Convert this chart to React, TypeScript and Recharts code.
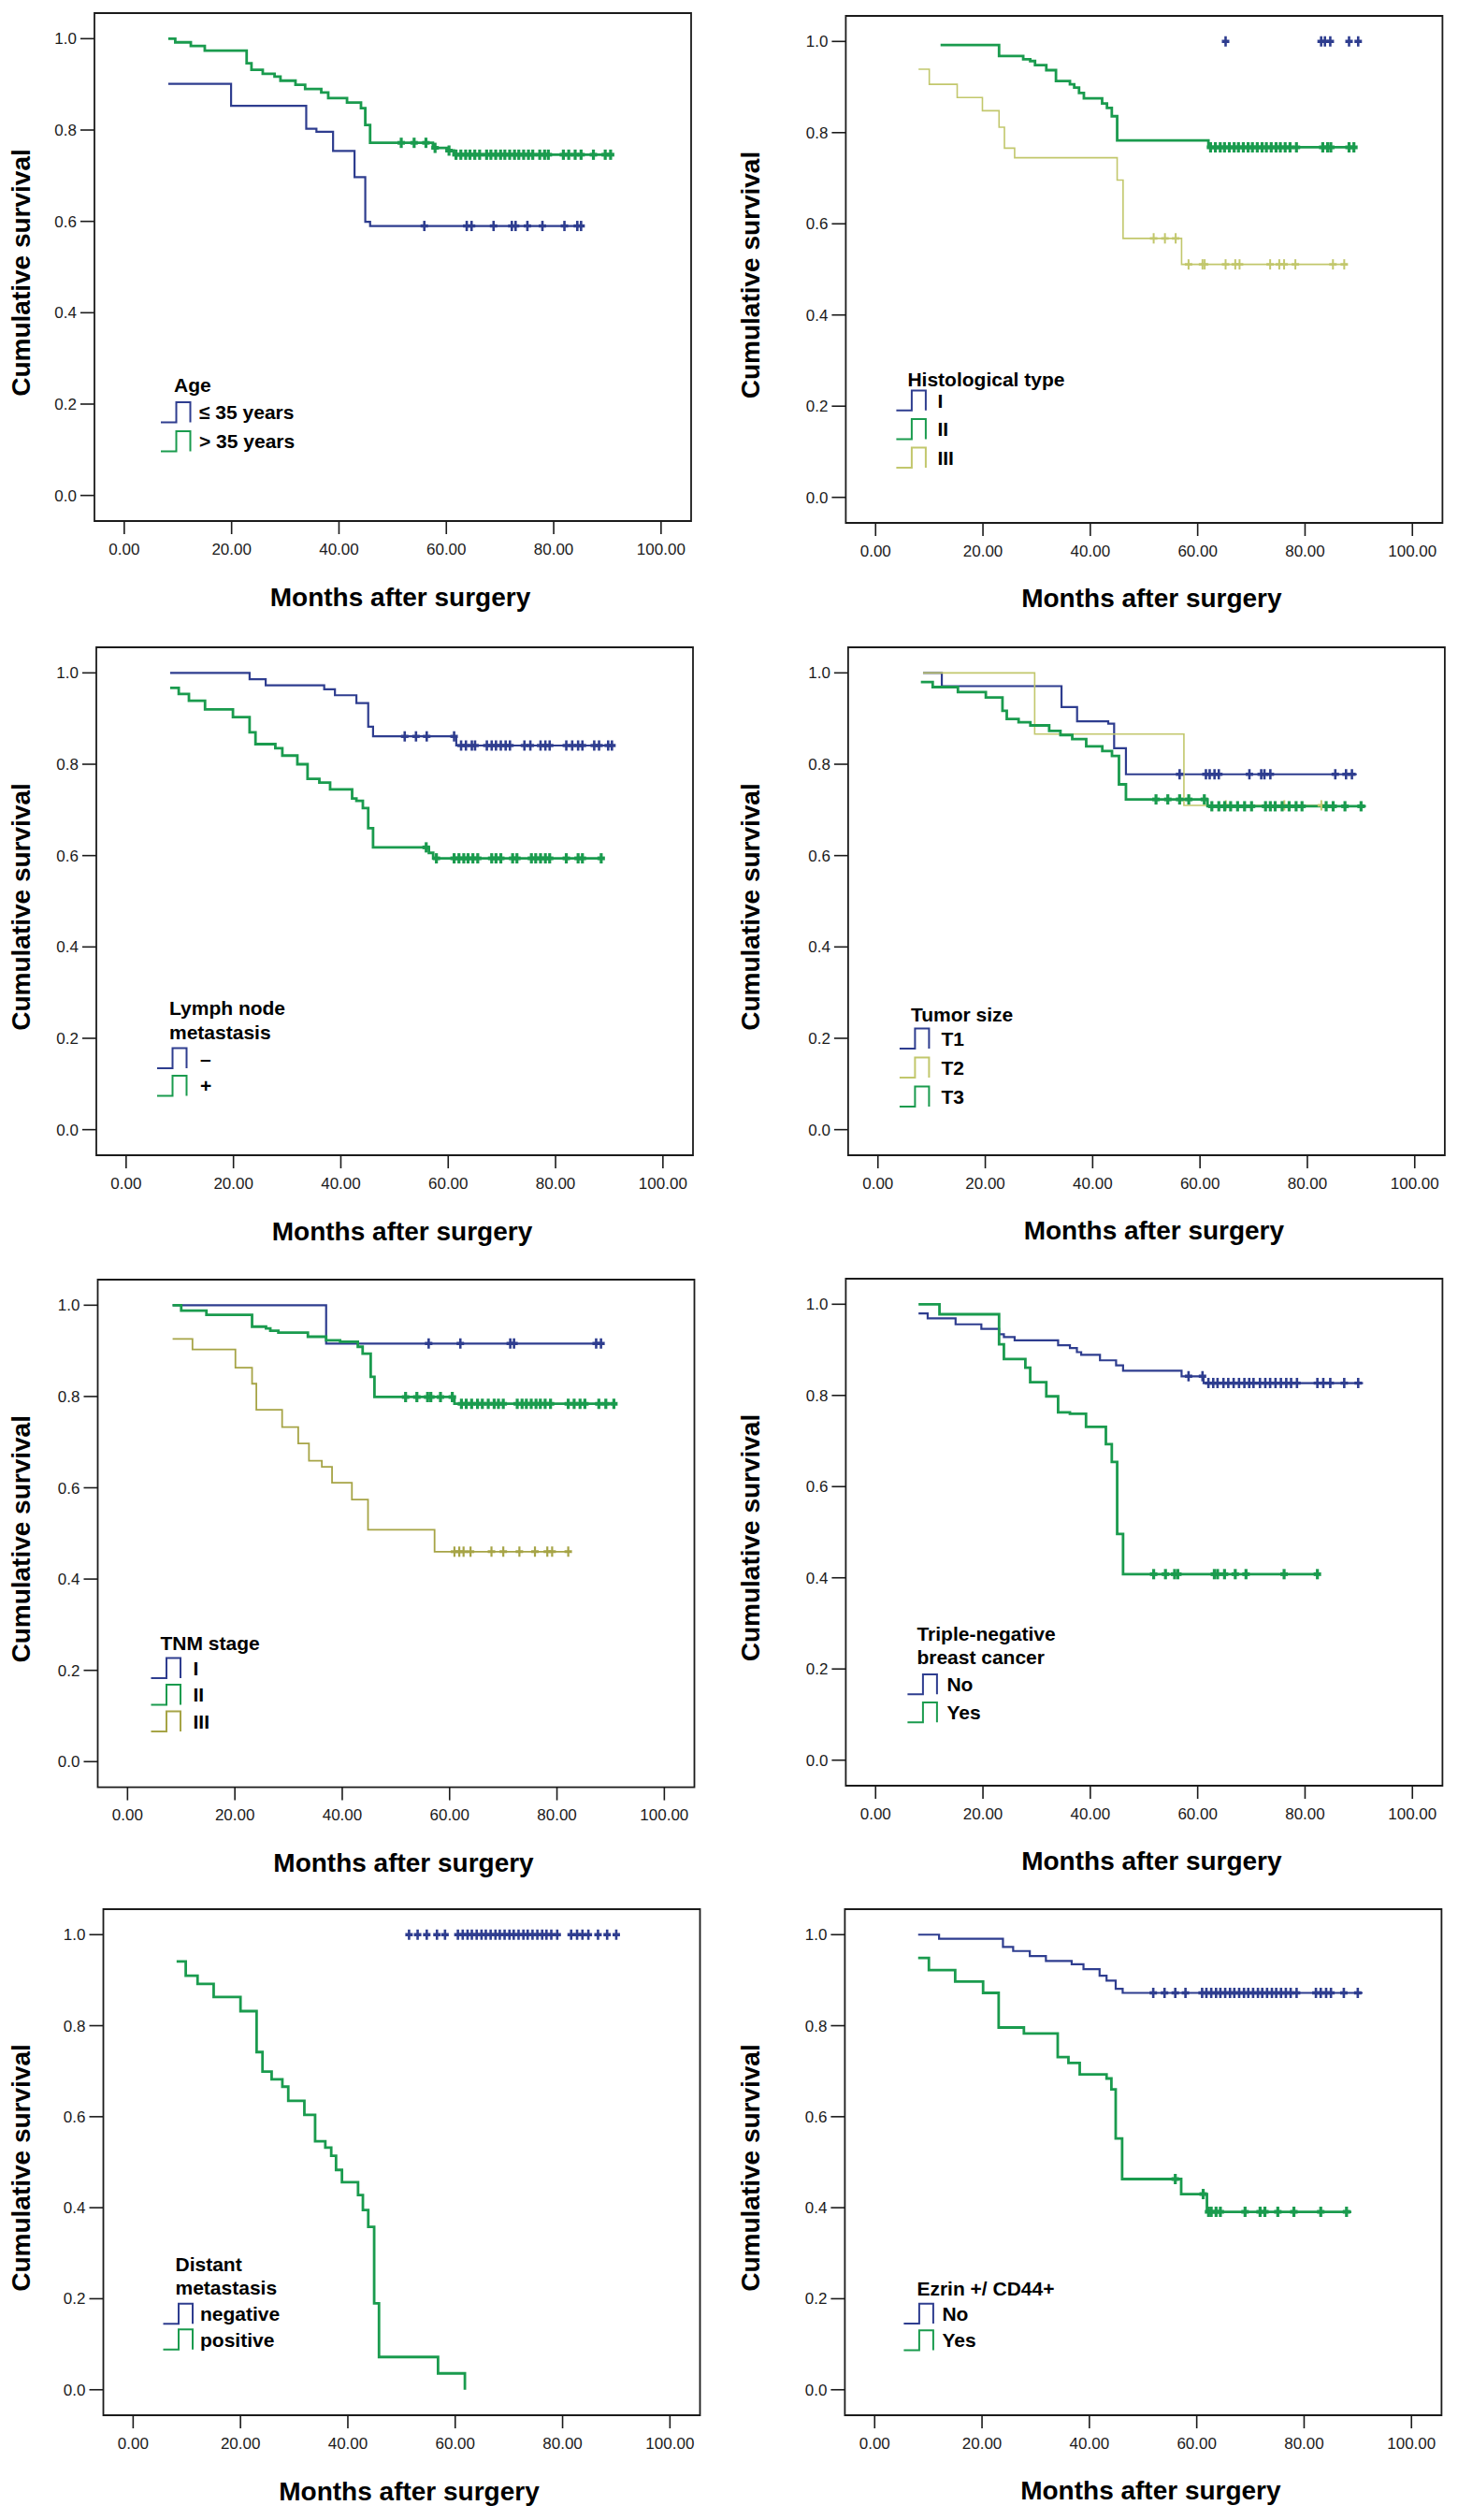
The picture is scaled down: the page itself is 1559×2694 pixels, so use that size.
import React from "react";
import { ComposedChart, Line, Scatter, XAxis, YAxis, ReferenceArea } from "recharts";

const FONT = "'Liberation Sans', Arial, Helvetica, sans-serif";
const INK = "#1b1b1b";
const BLUE = "#2e3d8f";
const GREEN = "#1a9b4e";
const PALE = "#c2c76c";
const OLIVE = "#a6a446";

const X_TICKS = [0, 20, 40, 60, 80, 100];
const Y_TICKS = [0, 0.2, 0.4, 0.6, 0.8, 1.0];
const X_DOMAIN: [number, number] = [-5.55, 105.6];
const Y_DOMAIN: [number, number] = [-0.056, 1.056];

// t = step times (first = start, last = end of follow-up), s = survival, c = censored times

// Age
const ageYoungT = [8.2, 19.9, 33.9, 35.8, 38.9, 42.9, 44.9, 45.8, 85.7];
const ageYoungS = [0.901, 0.853, 0.803, 0.796, 0.754, 0.697, 0.599, 0.59, 0.59];
const ageYoungC = [55.9, 63.8, 64.7, 68.8, 72.2, 72.9, 75.1, 77.9, 82.0, 84.4, 85.1];
const ageOldT = [8.2, 9.5, 12.4, 15.0, 22.8, 23.7, 25.8, 28.0, 29.1, 31.9, 33.7, 36.7, 38.0, 41.5, 44.1, 44.9, 45.8, 57.5, 60.1, 61.4, 90.9];
const ageOldS = [1.0, 0.992, 0.984, 0.974, 0.946, 0.932, 0.923, 0.917, 0.908, 0.899, 0.89, 0.882, 0.87, 0.86, 0.848, 0.811, 0.772, 0.761, 0.755, 0.746, 0.746];
const ageOldC = [51.6, 54.0, 56.2, 57.9, 60.5, 61.8, 62.7, 63.6, 64.4, 65.3, 66.2, 67.5, 68.3, 69.2, 70.1, 70.9, 71.8, 72.7, 73.5, 74.4, 75.3, 76.1, 77.4, 78.3, 79.0, 81.8, 82.8, 84.0, 85.1, 87.4, 89.6, 90.6];

// Histological type
const histIT = [65.2];
const histIS = [1.0];
const histIC = [65.2, 83.0, 83.7, 84.7, 88.2, 89.9];
const histIIT = [12.1, 23.0, 27.5, 28.8, 29.7, 31.8, 33.6, 36.2, 37.0, 37.9, 38.8, 42.2, 43.1, 44.0, 45.0, 62.0, 89.1];
const histIIS = [0.992, 0.968, 0.961, 0.957, 0.948, 0.937, 0.913, 0.906, 0.899, 0.887, 0.875, 0.864, 0.854, 0.836, 0.783, 0.768, 0.768];
const histIIC = [62.4, 63.3, 64.2, 65.0, 65.9, 66.8, 67.6, 68.5, 69.4, 70.2, 71.1, 72.0, 72.8, 73.7, 74.6, 75.4, 76.3, 77.2, 78.4, 83.3, 84.2, 84.8, 88.2, 89.1];
const histIIIT = [8.0, 10.0, 15.2, 19.9, 23.0, 24.0, 25.9, 45.0, 46.1, 57.0, 87.8];
const histIIIS = [0.939, 0.906, 0.877, 0.848, 0.812, 0.766, 0.745, 0.696, 0.568, 0.511, 0.511];
const histIIIC = [51.8, 53.9, 55.9, 58.3, 60.9, 61.3, 65.2, 67.0, 67.8, 73.5, 75.2, 76.1, 78.2, 85.2, 87.3];

// Lymph node metastasis
const lnNegT = [8.2, 23.0, 26.0, 36.9, 38.9, 42.9, 45.1, 46.0, 61.5, 90.6];
const lnNegS = [1.0, 0.986, 0.973, 0.964, 0.951, 0.934, 0.882, 0.861, 0.841, 0.841];
const lnNegC = [51.9, 54.0, 56.0, 61.1, 62.4, 63.3, 64.4, 65.0, 67.2, 68.1, 68.9, 69.8, 70.7, 71.5, 74.2, 75.3, 77.2, 78.1, 78.9, 82.0, 83.1, 84.2, 85.0, 87.2, 88.1, 89.8, 90.5];
const lnPosT = [8.2, 9.8, 11.7, 14.7, 19.9, 23.0, 24.1, 27.8, 29.1, 31.9, 33.8, 36.0, 38.0, 42.1, 42.9, 44.1, 45.1, 46.0, 56.4, 57.2, 88.5];
const lnPosS = [0.967, 0.954, 0.939, 0.92, 0.903, 0.87, 0.844, 0.835, 0.819, 0.8, 0.768, 0.76, 0.745, 0.725, 0.72, 0.704, 0.66, 0.618, 0.606, 0.594, 0.594];
const lnPosC = [55.9, 57.8, 61.1, 62.0, 62.9, 63.7, 64.6, 65.5, 68.1, 68.9, 69.8, 72.0, 72.8, 75.5, 76.3, 77.2, 78.1, 78.9, 82.0, 84.2, 85.0, 88.5];

// Tumor size
const t1T = [8.4, 11.9, 34.2, 37.1, 42.9, 44.0, 46.2, 89.2];
const t1S = [1.0, 0.971, 0.925, 0.894, 0.889, 0.835, 0.778, 0.778];
const t1C = [56.2, 61.1, 61.8, 62.7, 63.5, 69.2, 71.4, 72.0, 73.1, 85.2, 87.2, 88.3];
const t2T = [8.4, 29.2, 57.0, 84.4];
const t2S = [1.0, 0.866, 0.71, 0.71];
const t2C = [64.8, 75.7, 82.6];
const t3T = [8.0, 10.2, 14.9, 20.1, 23.2, 24.0, 26.2, 28.4, 31.9, 34.0, 36.2, 38.8, 41.8, 43.6, 44.9, 46.2, 61.4, 90.9];
const t3S = [0.98, 0.969, 0.958, 0.946, 0.917, 0.899, 0.892, 0.885, 0.873, 0.864, 0.855, 0.839, 0.829, 0.818, 0.756, 0.723, 0.708, 0.708];
const t3C = [51.8, 54.0, 56.2, 57.9, 60.8, 62.2, 63.5, 64.6, 65.7, 67.0, 68.3, 69.6, 72.2, 73.1, 74.0, 75.3, 76.6, 77.9, 79.0, 83.5, 84.8, 87.0, 90.0];

// TNM stage
const tnmIT = [8.4, 37.0, 88.6];
const tnmIS = [1.0, 0.916, 0.916];
const tnmIC = [56.1, 62.0, 71.3, 72.0, 87.3, 88.2];
const tnmIIT = [8.4, 10.0, 14.7, 23.2, 25.8, 26.6, 28.1, 33.6, 37.0, 39.6, 42.9, 43.8, 45.3, 46.0, 60.9, 90.8];
const tnmIIS = [1.0, 0.988, 0.979, 0.953, 0.949, 0.944, 0.94, 0.931, 0.923, 0.92, 0.909, 0.894, 0.843, 0.799, 0.784, 0.784];
const tnmIIC = [51.8, 53.9, 55.9, 56.5, 58.3, 60.5, 62.2, 63.1, 64.1, 65.2, 66.1, 67.2, 68.3, 69.1, 70.0, 72.6, 73.5, 74.3, 75.2, 76.1, 76.9, 77.8, 78.8, 82.1, 83.2, 84.3, 85.2, 87.8, 89.1, 90.6];
const tnmIIIT = [8.4, 12.1, 20.1, 23.2, 24.0, 28.8, 31.8, 33.8, 36.2, 38.1, 41.8, 44.8, 57.2, 82.6];
const tnmIIIS = [0.926, 0.903, 0.863, 0.828, 0.771, 0.733, 0.697, 0.659, 0.646, 0.611, 0.574, 0.508, 0.46, 0.46];
const tnmIIIC = [60.9, 61.8, 62.6, 63.9, 67.8, 70.0, 73.0, 75.9, 78.2, 79.1, 82.1];

// Triple-negative breast cancer
const tnNoT = [8.0, 9.7, 14.9, 19.7, 23.0, 23.9, 25.9, 34.0, 36.2, 37.5, 38.3, 41.8, 44.8, 46.1, 57.0, 61.1, 90.8];
const tnNoS = [0.98, 0.969, 0.956, 0.946, 0.934, 0.928, 0.921, 0.91, 0.904, 0.895, 0.889, 0.877, 0.866, 0.854, 0.842, 0.827, 0.827];
const tnNoC = [58.3, 60.9, 62.0, 62.9, 63.7, 64.8, 65.7, 66.7, 67.7, 68.7, 69.6, 70.4, 71.6, 72.6, 73.5, 74.5, 75.5, 76.5, 77.4, 78.5, 82.3, 83.4, 84.7, 87.3, 89.9];
const tnYesT = [8.0, 11.9, 23.0, 23.9, 27.9, 28.8, 31.8, 34.0, 36.2, 39.2, 42.9, 44.0, 45.0, 46.1, 82.6];
const tnYesS = [1.0, 0.978, 0.912, 0.88, 0.861, 0.829, 0.798, 0.763, 0.76, 0.731, 0.693, 0.654, 0.496, 0.408, 0.408];
const tnYesC = [51.8, 54.0, 55.7, 56.3, 63.1, 63.7, 65.0, 67.0, 69.0, 76.1, 82.3];

// Distant metastasis
const dmNegT = [51.4];
const dmNegS = [1.0];
const dmNegC = [51.4, 53.0, 54.7, 56.6, 58.1, 60.5, 61.4, 62.3, 63.1, 64.0, 64.9, 65.7, 66.6, 67.5, 68.3, 69.2, 70.1, 70.9, 71.8, 72.7, 73.5, 74.4, 75.3, 76.2, 77.0, 77.9, 79.0, 81.6, 82.7, 83.7, 84.8, 86.6, 88.3, 90.0];
const dmPosT = [8.1, 9.8, 12.0, 15.0, 20.0, 23.0, 24.1, 25.8, 27.8, 28.9, 31.9, 33.9, 35.8, 36.9, 37.8, 38.9, 41.9, 42.8, 43.8, 44.9, 45.8, 56.8, 61.8];
const dmPosS = [0.941, 0.91, 0.892, 0.863, 0.832, 0.742, 0.699, 0.682, 0.666, 0.635, 0.604, 0.546, 0.532, 0.514, 0.483, 0.456, 0.428, 0.395, 0.358, 0.19, 0.072, 0.036, 0.0];
const dmPosC: number[] = [];

// Ezrin+/CD44+
const ezNoT = [8.1, 12.0, 23.9, 25.8, 28.9, 31.9, 36.7, 38.9, 41.9, 43.2, 44.9, 46.2, 90.9];
const ezNoS = [1.0, 0.991, 0.973, 0.964, 0.953, 0.942, 0.935, 0.924, 0.91, 0.899, 0.881, 0.872, 0.872];
const ezNoC = [51.9, 54.0, 56.0, 57.9, 61.0, 61.8, 62.7, 63.6, 64.4, 65.3, 66.2, 67.0, 67.9, 68.8, 69.6, 70.5, 71.4, 72.2, 73.1, 74.0, 74.8, 75.7, 76.6, 77.5, 78.6, 82.2, 83.1, 84.1, 85.0, 87.4, 90.0];
const ezYesT = [8.1, 10.1, 15.0, 20.2, 23.1, 27.8, 34.1, 36.1, 38.2, 43.2, 44.1, 44.9, 46.1, 57.1, 61.9, 88.8];
const ezYesS = [0.949, 0.922, 0.897, 0.872, 0.796, 0.783, 0.731, 0.718, 0.693, 0.684, 0.66, 0.552, 0.463, 0.43, 0.391, 0.391];
const ezYesC = [56.0, 61.2, 62.2, 62.7, 63.6, 64.4, 69.0, 71.8, 72.7, 75.1, 78.1, 83.1, 87.9];

type Series = { label: string; color: string; width: number; t: number[]; s: number[]; c: number[] };
type LegendLayout = {
  title: string[];
  titleDx: number;
  titleDy: number;
  titleGap: number;
  iconDx: number;
  textDx: number;
  entryDy: number;
  entryGap: number;
};
type Panel = { px: number; frame: [number, number, number, number]; series: Series[]; legend: LegendLayout };

const panels: Panel[] = [
  {
    px: 0,
    frame: [101, 13.7, 638, 543],
    series: [
      { label: "≤ 35 years", color: BLUE, width: 2.2, t: ageYoungT, s: ageYoungS, c: ageYoungC },
      { label: "> 35 years", color: GREEN, width: 2.8, t: ageOldT, s: ageOldS, c: ageOldC },
    ],
    legend: { title: ["Age"], titleDx: 85, titleDy: 398, titleGap: 26, iconDx: 71, textDx: 112, entryDy: 427, entryGap: 31 },
  },
  {
    px: 780,
    frame: [904.4, 17.1, 638, 542],
    series: [
      { label: "I", color: BLUE, width: 2.2, t: histIT, s: histIS, c: histIC },
      { label: "II", color: GREEN, width: 2.8, t: histIIT, s: histIIS, c: histIIC },
      { label: "III", color: PALE, width: 1.6, t: histIIIT, s: histIIIS, c: histIIIC },
    ],
    legend: { title: ["Histological type"], titleDx: 66, titleDy: 388, titleGap: 26, iconDx: 54, textDx: 98, entryDy: 411, entryGap: 30.6 },
  },
  {
    px: 0,
    frame: [103, 692.3, 638, 543],
    series: [
      { label: "–", color: BLUE, width: 2.2, t: lnNegT, s: lnNegS, c: lnNegC },
      { label: "+", color: GREEN, width: 2.8, t: lnPosT, s: lnPosS, c: lnPosC },
    ],
    legend: { title: ["Lymph node", "metastasis"], titleDx: 78, titleDy: 385, titleGap: 25.7, iconDx: 65, textDx: 111, entryDy: 439, entryGap: 29.5 },
  },
  {
    px: 780,
    frame: [906.9, 692.3, 638, 543],
    series: [
      { label: "T1", color: BLUE, width: 2.2, t: t1T, s: t1S, c: t1C },
      { label: "T2", color: PALE, width: 1.6, t: t2T, s: t2S, c: t2C },
      { label: "T3", color: GREEN, width: 2.8, t: t3T, s: t3S, c: t3C },
    ],
    legend: { title: ["Tumor size"], titleDx: 67, titleDy: 392, titleGap: 26, iconDx: 55, textDx: 99.5, entryDy: 418, entryGap: 31 },
  },
  {
    px: 0,
    frame: [104.5, 1367.8, 638, 542.6],
    series: [
      { label: "I", color: BLUE, width: 2.2, t: tnmIT, s: tnmIS, c: tnmIC },
      { label: "II", color: GREEN, width: 2.8, t: tnmIIT, s: tnmIIS, c: tnmIIC },
      { label: "III", color: OLIVE, width: 1.8, t: tnmIIIT, s: tnmIIIS, c: tnmIIIC },
    ],
    legend: { title: ["TNM stage"], titleDx: 67, titleDy: 388.5, titleGap: 26, iconDx: 57, textDx: 102, entryDy: 415.5, entryGap: 28.5 },
  },
  {
    px: 780,
    frame: [904.4, 1366.6, 638, 542],
    series: [
      { label: "No", color: BLUE, width: 2.2, t: tnNoT, s: tnNoS, c: tnNoC },
      { label: "Yes", color: GREEN, width: 2.8, t: tnYesT, s: tnYesS, c: tnYesC },
    ],
    legend: { title: ["Triple-negative", "breast cancer"], titleDx: 76, titleDy: 379.4, titleGap: 25.7, iconDx: 66, textDx: 108, entryDy: 434, entryGap: 30 },
  },
  {
    px: 0,
    frame: [110.5, 2040.5, 638, 541],
    series: [
      { label: "negative", color: BLUE, width: 2.2, t: dmNegT, s: dmNegS, c: dmNegC },
      { label: "positive", color: GREEN, width: 2.8, t: dmPosT, s: dmPosS, c: dmPosC },
    ],
    legend: { title: ["Distant", "metastasis"], titleDx: 77, titleDy: 380, titleGap: 25.4, iconDx: 64, textDx: 103.5, entryDy: 433, entryGap: 27.5 },
  },
  {
    px: 780,
    frame: [903.4, 2041.4, 638, 541],
    series: [
      { label: "No", color: BLUE, width: 2.2, t: ezNoT, s: ezNoS, c: ezNoC },
      { label: "Yes", color: GREEN, width: 2.8, t: ezYesT, s: ezYesS, c: ezYesC },
    ],
    legend: { title: ["Ezrin +/ CD44+"], titleDx: 77, titleDy: 404.6, titleGap: 26, iconDx: 63, textDx: 104, entryDy: 432, entryGap: 28.5 },
  },
];

function stepPoints(s: Series) {
  return s.t.map((x, i) => ({ x, y: s.s[i] }));
}

function levelAt(s: Series, time: number) {
  let v = s.s[0];
  s.t.forEach((x, i) => {
    if (x <= time) v = s.s[i];
  });
  return v;
}

function censorPoints(s: Series) {
  return s.c.map((x) => ({ x, y: levelAt(s, x) }));
}

const plusShape = (color: string, w: number) => (props: any) => {
  const { cx, cy } = props;
  if (cx == null || cy == null) return <g />;
  return (
    <g stroke={color} strokeWidth={w}>
      <line x1={cx} x2={cx} y1={cy - 5.5} y2={cy + 5.5} />
      <line x1={cx - 4} x2={cx + 4} y1={cy} y2={cy} strokeWidth={w + 0.8} />
    </g>
  );
};

function KMPanel({ p }: { p: Panel }) {
  const [fl, ft, fw, fh] = p.frame;
  const yw = fl - p.px;
  const width = yw + fw + 20;
  const height = 10 + fh + 110;
  return (
    <div style={{ position: "absolute", left: p.px, top: ft - 10, width, height }}>
      <ComposedChart width={width} height={height} margin={{ top: 10, right: 20, bottom: 0, left: 0 }}>
        <XAxis
          dataKey="x"
          type="number"
          domain={X_DOMAIN}
          allowDataOverflow
          ticks={X_TICKS}
          height={110}
          axisLine={false}
          tickSize={14}
          tickMargin={9.5}
          tickLine={{ stroke: INK, strokeWidth: 1.6 }}
          tick={{ fill: INK, fontSize: 17, fontFamily: FONT }}
          tickFormatter={(v: number) => v.toFixed(2)}
          label={() => (
            <text
              x={yw + fw / 2 + 8}
              y={10 + fh + 81}
              textAnchor="middle"
              dominantBaseline="central"
              fontFamily={FONT}
              fontWeight="bold"
              fontSize={28}
              fill="#000"
            >
              Months after surgery
            </text>
          )}
        />
        <YAxis
          dataKey="y"
          type="number"
          domain={Y_DOMAIN}
          allowDataOverflow
          ticks={Y_TICKS}
          width={yw}
          axisLine={false}
          tickSize={15}
          tickMargin={4}
          tickLine={{ stroke: INK, strokeWidth: 1.6 }}
          tick={{ fill: INK, fontSize: 17, fontFamily: FONT }}
          tickFormatter={(v: number) => v.toFixed(1)}
          label={() => (
            <text
              transform={`translate(22.5, ${10 + fh / 2 + 6}) rotate(-90)`}
              textAnchor="middle"
              dominantBaseline="central"
              fontFamily={FONT}
              fontWeight="bold"
              fontSize={28}
              fill="#000"
            >
              Cumulative survival
            </text>
          )}
        />
        <ReferenceArea
          x1={X_DOMAIN[0]}
          x2={X_DOMAIN[1]}
          y1={Y_DOMAIN[0]}
          y2={Y_DOMAIN[1]}
          fill="none"
          stroke={INK}
          strokeWidth={1.8}
          ifOverflow="visible"
        />
        {p.series
          .filter((s) => s.t.length > 1)
          .map((s) => (
            <Line
              key={"l" + s.label}
              data={stepPoints(s)}
              dataKey="y"
              type="stepAfter"
              stroke={s.color}
              strokeWidth={s.width}
              dot={false}
              activeDot={false}
              isAnimationActive={false}
            />
          ))}
        {p.series.map((s) => (
          <Scatter
            key={"c" + s.label}
            data={censorPoints(s)}
            dataKey="y"
            shape={plusShape(s.color, s.width + 0.4)}
            isAnimationActive={false}
          />
        ))}
      </ComposedChart>
    </div>
  );
}

function Legends() {
  return (
    <svg
      width={1559}
      height={2694}
      style={{ position: "absolute", left: 0, top: 0, pointerEvents: "none" }}
    >
      {panels.map((p, pi) => {
        const [fl, ft] = p.frame;
        const L = p.legend;
        return (
          <g key={pi} fontFamily={FONT} fontWeight="bold" fontSize={21} fill="#000">
            {L.title.map((line, i) => (
              <text key={"t" + i} x={fl + L.titleDx} y={ft + L.titleDy + i * L.titleGap} dominantBaseline="central">
                {line}
              </text>
            ))}
            {p.series.map((s, i) => {
              const cy = ft + L.entryDy + i * L.entryGap;
              const x0 = fl + L.iconDx;
              const h = 10.7;
              return (
                <g key={"e" + i}>
                  <polyline
                    points={`${x0},${cy + h} ${x0 + 16.5},${cy + h} ${x0 + 16.5},${cy - h} ${x0 + 31.5},${cy - h} ${x0 + 31.5},${cy + h}`}
                    fill="none"
                    stroke={s.color}
                    strokeWidth={2}
                  />
                  <text x={fl + L.textDx} y={cy} dominantBaseline="central">
                    {s.label}
                  </text>
                </g>
              );
            })}
          </g>
        );
      })}
    </svg>
  );
}

export default function App() {
  return (
    <div style={{ position: "absolute", left: 0, top: 0, width: 1559, height: 2694, background: "#fff" }}>
      {panels.map((p, i) => (
        <KMPanel key={i} p={p} />
      ))}
      <Legends />
    </div>
  );
}
